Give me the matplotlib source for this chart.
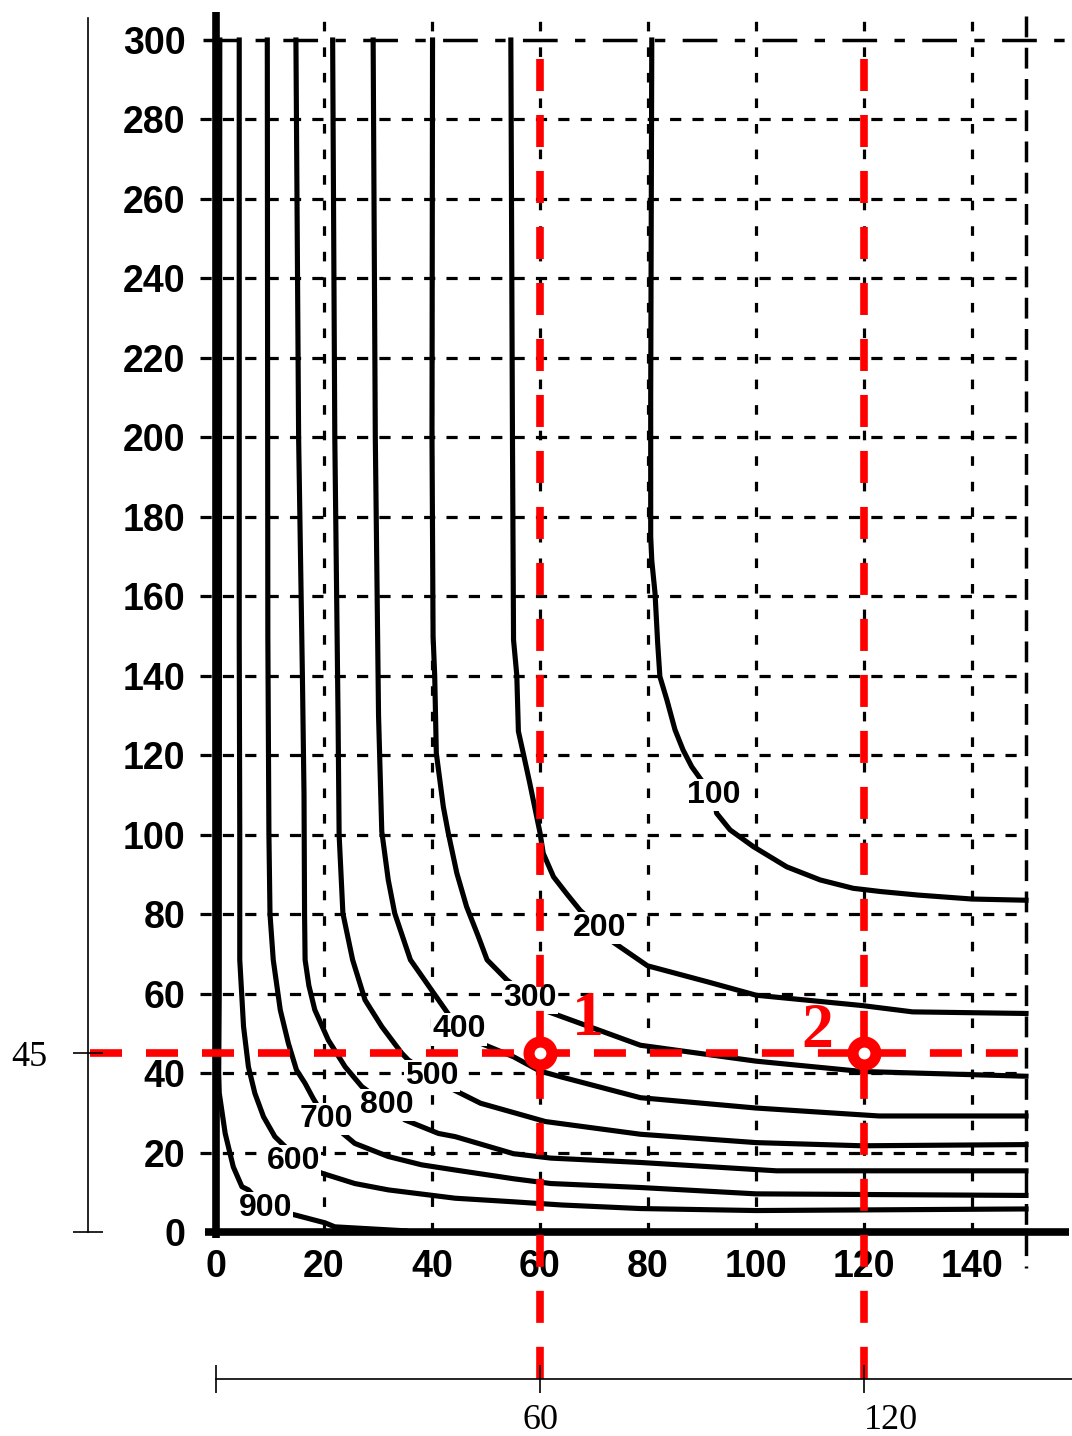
import matplotlib
matplotlib.use('Agg')
import matplotlib.pyplot as plt

# Achsen / Raster
x_ticks = [0, 20, 40, 60, 80, 100, 120, 140]
y_ticks = [0, 20, 40, 60, 80, 100, 120, 140, 160, 180, 200, 220, 240, 260, 280, 300]
grid_x = [20, 40, 60, 80, 100, 120, 140]
grid_y = [20, 40, 60, 80, 100, 120, 140, 160, 180, 200, 220, 240, 260, 280]

c100_x = [80.7, 80.5, 80.5, 80.7, 81.3, 81.8, 82.2, 83.5, 85.0, 86.5, 88.1, 90.0, 92.2, 92.7, 95.2, 99.5, 105.7, 111.9, 118.0, 123.0, 130.0, 140.0, 150.0]
c100_y = [300, 210, 175, 169, 160.8, 148, 139.8, 133.9, 126.4, 121.3, 117.1, 113.5, 110, 105.4, 101.2, 97, 91.9, 88.6, 86.5, 85.7, 84.8, 83.8, 83.5]
c200_x = [54.6, 54.9, 55.1, 55.7, 56.0, 56.9, 58.1, 60.0, 60.6, 62.5, 64.9, 67.4, 71.0, 73.6, 79.9, 91.2, 100.0, 119.6, 129.0, 150.0]
c200_y = [300, 200, 149, 140.2, 126, 120.5, 113, 100.5, 95.3, 89.4, 85.2, 81, 76.5, 72.9, 67, 62.9, 59.6, 57, 55.4, 55]
c300_x = [40.1, 40.0, 40.2, 40.5, 40.8, 42.1, 43.0, 44.6, 46.4, 48.6, 50.2, 53.9, 58.2, 61.6, 78.6, 100.0, 119.6, 150.0]
c300_y = [300, 200, 150, 140, 120.5, 107, 100.5, 90.3, 81.9, 74.3, 68.5, 63.4, 59, 55.4, 47, 43, 40.4, 39.2]
c400_x = [29.1, 29.5, 30.1, 30.7, 31.9, 33.1, 36.0, 41.2, 45.0, 49.0, 55.1, 60.0, 64.0, 78.6, 100.0, 122.8, 150.0]
c400_y = [300, 200, 130, 100.8, 88.6, 80.2, 68.5, 58.4, 51, 47.5, 44.1, 40.5, 39, 33.8, 31.2, 29.2, 29.2]
c500_x = [21.6, 22.0, 22.6, 22.8, 23.5, 25.3, 27.6, 30.7, 34.4, 35.6, 40.0, 42.8, 49.0, 61.0, 78.6, 100.0, 119.6, 150.0]
c500_y = [300, 200, 130, 100, 80.2, 68.5, 58.4, 51.7, 45, 43.3, 39.3, 36.6, 32.4, 27.8, 24.6, 22.5, 21.7, 22]
c800_x = [14.8, 15.3, 16.0, 16.3, 16.4, 16.5, 17.2, 18.3, 20.8, 23.9, 27.0, 31.6, 35.0, 41.2, 44.3, 55.1, 62.0, 78.6, 103.8, 150.0]
c800_y = [300, 200, 140, 110, 80, 68.5, 62, 55.9, 48.3, 41.6, 36.6, 32, 28.2, 24.8, 24, 19.7, 18.6, 17.5, 15.4, 15.4]
c700_x = [9.5, 9.6, 9.8, 10.0, 10.6, 11.9, 13.4, 14.9, 16.5, 18.0, 20.4, 22.7, 25.7, 31.9, 38.1, 44.3, 55.1, 62.0, 78.6, 100.0, 150.0]
c700_y = [300, 150, 100, 80, 68.5, 55.9, 47.5, 40.8, 37.4, 33.6, 28.2, 25.7, 22.3, 19, 16.9, 15.6, 13.4, 12.2, 11.2, 9.6, 9.2]
c600_x = [4.3, 4.3, 4.4, 4.4, 5.1, 6.0, 7.2, 8.8, 10.9, 12.8, 14.3, 19.6, 25.7, 31.9, 44.3, 55.1, 64.0, 78.6, 100.0, 150.0]
c600_y = [300, 150, 100, 68.5, 51.7, 41.6, 34.9, 29, 24, 21.5, 17.9, 14.8, 12.2, 10.6, 8.5, 7.6, 6.8, 5.9, 5.4, 5.8]
c900_x = [0.7, 0.6, 0.5, 0.6, 1.7, 3.2, 4.8, 6.0, 9.1, 14.6, 20.2, 22.0, 35.0]
c900_y = [300, 60, 40, 35, 24.8, 16.4, 11.4, 10.6, 6.0, 4.3, 2.3, 1.3, 0.3]

# Beschriftungen der Kurven
label_text = ['100', '200', '300', '400', '500', '800', '700', '600', '900']
label_x = [92.2, 71.0, 58.2, 45.0, 40.0, 31.6, 20.5, 14.3, 9.1]
label_y = [110.0, 76.5, 59.0, 51.0, 39.3, 32.0, 28.4, 17.9, 6.0]

# Rote Markierung
mark_x = [60, 120]
mark_y = [45, 45]
mark_names = ['1', '2']
mark_text_x = [68.9, 111.3]
mark_text_y = [49.6, 46.6]

# Hilfsachsen
aux_x_ticks = [0, 60, 120]
aux_x_labels = ['', '60', '120']
aux_y_ticks = [0, 45]
aux_y_labels = ['', '45']

curves = [(c100_x, c100_y), (c200_x, c200_y), (c300_x, c300_y), (c400_x, c400_y),
          (c500_x, c500_y), (c800_x, c800_y), (c700_x, c700_y), (c600_x, c600_y),
          (c900_x, c900_y)]

W, H = 1072, 1436
px_x = 5.4      # Pixel pro Einheit x
px_y = 3.973    # Pixel pro Einheit y

fig = plt.figure(figsize=(W / 100, H / 100), dpi=100)
ax = fig.add_axes([216 / W, 204 / H, 810 / W, 1192 / H])
ax.set_xlim(0, 150)
ax.set_ylim(0, 300)
for s in ax.spines.values():
    s.set_visible(False)
ax.patch.set_visible(False)

ax.set_xticks(x_ticks)
ax.set_xticklabels([str(v) for v in x_ticks], fontsize=27, fontweight='bold', family='Liberation Sans')
ax.set_yticks(y_ticks)
ax.set_yticklabels([str(v) for v in y_ticks], fontsize=27, fontweight='bold', family='Liberation Sans')
ax.tick_params(length=0)
ax.tick_params(axis='x', pad=12)
ax.tick_params(axis='y', pad=22)

# Raster
for gx in grid_x:
    ax.plot([gx, gx], [0, 305], color='black', lw=2.3, ls=(0, (3, 5)), clip_on=False, zorder=1)
for gy in grid_y:
    ax.plot([-3, 150], [gy, gy], color='black', lw=2.3, ls=(0, (3.5, 3.5)), clip_on=False, zorder=1)
ax.plot([-2.5, 157.5], [300, 300], color='black', lw=2.5, ls=(0, (10, 5, 3, 5)), clip_on=False, zorder=1)
ax.plot([150, 150], [306, -9], color='black', lw=2.5, ls=(0, (6, 3)), clip_on=False, zorder=1)

# Achsenlinien
ax.plot([0, 0], [-1.5, 307], color='black', lw=5.5, solid_capstyle='butt', clip_on=False, zorder=2.5)
ax.plot([-2, 158], [0, 0], color='black', lw=5.5, solid_capstyle='butt', clip_on=False, zorder=2.5)

# Kurven
for cx, cy in curves:
    ax.plot(cx, cy, color='black', lw=3.7, solid_joinstyle='round', clip_on=False, zorder=2)

for t, lx, ly in zip(label_text, label_x, label_y):
    ax.text(lx, ly, t, fontsize=23, fontweight='bold', family='Liberation Sans',
            ha='center', va='center', zorder=3,
            bbox=dict(fc='white', ec='none', pad=1))

# Rote Linien
red = '#ff0000'
ax.plot([-23.3, 149], [45, 45], color=red, lw=5.5, ls=(0, (4.19, 3.14)), clip_on=False, zorder=5)
for mx in mark_x:
    ax.plot([mx, mx], [295.1, -37.3], color=red, lw=5.5, ls=(0, (4.19, 3.14)), clip_on=False, zorder=5)
ax.plot(mark_x, mark_y, 'o', ms=16.5, mew=8, mfc='white', mec=red, clip_on=False, zorder=6)
for t, tx, ty in zip(mark_names, mark_text_x, mark_text_y):
    ax.text(tx, ty, t, color=red, fontsize=46, fontweight='bold', family='Liberation Serif',
            ha='center', va='baseline', zorder=6)

# untere Hilfsachse
axb = fig.add_axes([216 / W, (H - 1379) / H, (W - 216) / W, 0.0001])
axb.set_xlim(0, (W - 216) / px_x)
axb.set_ylim(0, 1)
for name in ['top', 'left', 'right']:
    axb.spines[name].set_visible(False)
axb.spines['bottom'].set_linewidth(1.2)
axb.patch.set_visible(False)
axb.set_yticks([])
axb.set_xticks(aux_x_ticks)
axb.set_xticklabels(aux_x_labels, fontsize=26, family='Liberation Serif')
axb.tick_params(axis='x', direction='inout', length=20, width=1.2, pad=8)
axb.xaxis.get_major_ticks()[2].label1.set_horizontalalignment('left')

# linke Hilfsachse
axl = fig.add_axes([88 / W, 204 / H, 0.0001, (1232 - 18) / H])
axl.set_ylim(0, (1232 - 18) / px_y)
axl.set_xlim(0, 1)
for name in ['top', 'bottom', 'right']:
    axl.spines[name].set_visible(False)
axl.spines['left'].set_linewidth(1.2)
axl.patch.set_visible(False)
axl.set_xticks([])
axl.set_yticks(aux_y_ticks)
axl.set_yticklabels(aux_y_labels, fontsize=26, family='Liberation Serif')
axl.tick_params(axis='y', direction='inout', length=21, width=1.2, pad=19)

fig.savefig('out.png', dpi=100)
